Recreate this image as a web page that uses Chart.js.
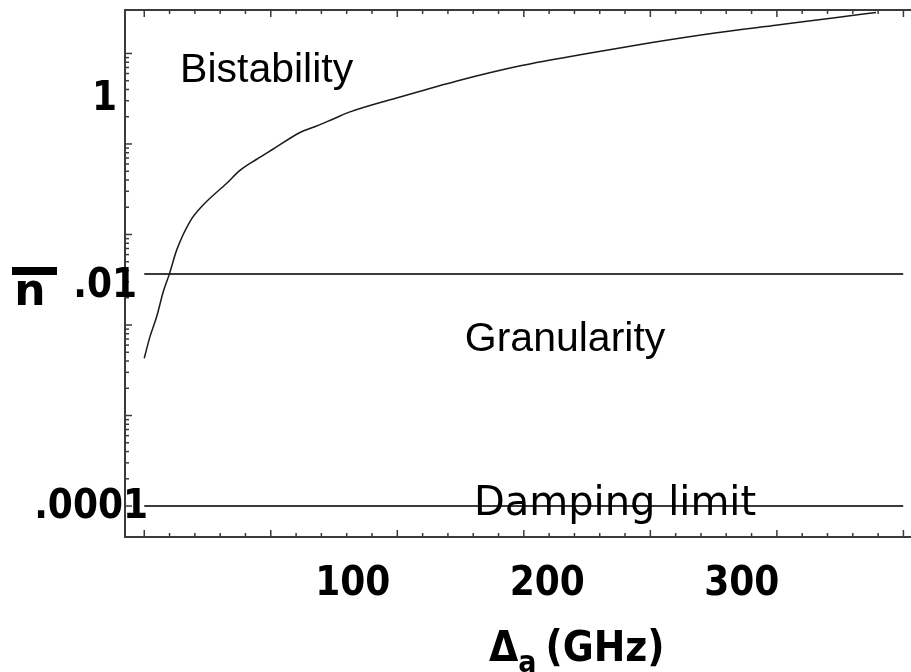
<!DOCTYPE html>
<html lang="en">
<head>
<meta charset="utf-8" />
<title>Mean photon number vs detuning</title>
<script src="https://cdn.jsdelivr.net/npm/chart.js@4.4.1/dist/chart.umd.min.js"></script>
<style>
  html, body { margin: 0; padding: 0; background: #fff; }
  canvas { display: block; }
</style>
</head>
<body>
<canvas id="chart" width="911" height="672"></canvas>
<script>
// curve: detuning (GHz) and mean photon number (log axis)
const detuning = [-7.2, -4.3, -0.8, 2.6, 5.7, 9.5, 16.3, 23.1, 35.2, 42.0, 50.6, 59.1,
  72.9, 81.4, 90.0, 98.6, 124.3, 153.6, 186.8, 219.9, 253.1, 286.2, 318.4, 346.9, 369.0];
const nBar = [0.0043, 0.0074, 0.0124, 0.0234, 0.0365, 0.0676, 0.139, 0.212, 0.368, 0.511, 0.678, 0.88,
  1.34, 1.58, 1.89, 2.26, 3.3, 4.97, 7.36, 9.93, 13.1, 16.8, 20.6, 24.7, 28.3];

// horizontal limit lines
const limitValues = [0.0367, 0.0001];
const limitFrom = -7.2;
const limitTo = 383;

// region names
const regionNames = ['Bistability', 'Granularity', 'Damping limit'];
const regionAt = [[11.2, 4.84], [157.6, 0.00519], [162.3, 0.00008]];

// tick labels
const xTickValues = [100, 200, 300];
const xTickLabels = ['100', '200', '300'];
const yTickLabels = ['.0001', '.01', '1'];
const yTickAt = [0.0000737, 0.0205, 2.375];

// the frame ticks of the original plot: its own units, a tick every 20, a long one every 100
const frameOrigin = -7.2;   // GHz at frame 0
const frameStep = 0.6505;   // GHz per frame unit

const BOLD = "bold 40px 'DejaVu Sans Condensed', 'DejaVu Sans', sans-serif";
const INK = '#3a3a3a';

const framePlugin = {
  id: 'framePlugin',
  afterDraw(chart) {
    const { ctx, chartArea: a } = chart;
    const x = chart.scales.x, y = chart.scales.y;
    const seg = (x1, y1, x2, y2) => {
      ctx.beginPath(); ctx.moveTo(x1, y1); ctx.lineTo(x2, y2); ctx.stroke();
    };
    ctx.save();
    ctx.strokeStyle = INK;
    ctx.lineWidth = 2;
    seg(a.left, a.top, a.right, a.top);

    // inward ticks
    ctx.lineWidth = 1.5;
    for (let u = 0; u <= 600; u += 20) {
      const px = x.getPixelForValue(frameOrigin + u * frameStep);
      const len = u % 100 === 0 ? 7 : 4;
      seg(px, a.bottom, px, a.bottom - len);
      seg(px, a.top, px, a.top + len);
    }
    for (let k = -4; k <= 1; k++) {
      for (let m = 1; m <= 9; m++) {
        if (k === 1 && m > 1) break;
        const py = y.getPixelForValue(m * Math.pow(10, k));
        seg(a.left, py, a.left + (m === 1 ? 7 : 4), py);
      }
    }

    // y tick labels
    ctx.fillStyle = '#000';
    ctx.font = BOLD;
    ctx.textAlign = 'right';
    ctx.textBaseline = 'alphabetic';
    const yLabelRight = [23, 12, -8];
    yTickLabels.forEach((t, i) => {
      ctx.fillText(t, a.left + yLabelRight[i], y.getPixelForValue(yTickAt[i]));
    });

    // y title: n with a bar over it
    ctx.textAlign = 'center';
    ctx.font = "bold 44px 'DejaVu Sans', sans-serif";
    ctx.fillText('n', 30, 305);
    ctx.fillRect(12, 267, 45, 8);

    // x title: Δa (GHz)
    ctx.textAlign = 'left';
    const big = "bold 42px 'DejaVu Sans Condensed', 'DejaVu Sans', sans-serif";
    const sub = "bold 30px 'DejaVu Sans Condensed', 'DejaVu Sans', sans-serif";
    let tx = 489;
    ctx.font = big;
    ctx.fillText('\u0394', tx, 661);
    tx += ctx.measureText('\u0394').width;
    ctx.font = sub;
    ctx.fillText('a', tx, 672);
    tx += ctx.measureText('a').width + 9;
    ctx.font = big;
    ctx.fillText('(GHz)', tx, 661);

    // region names
    regionNames.forEach((t, i) => {
      ctx.font = i === 2 ? "40px 'DejaVu Sans', sans-serif" : "41px 'Liberation Sans', Arial, sans-serif";
      ctx.fillText(t, x.getPixelForValue(regionAt[i][0]), y.getPixelForValue(regionAt[i][1]));
    });
    ctx.restore();
  }
};

const curve = detuning.map((d, i) => ({ x: d, y: nBar[i] }));
const limits = limitValues.map((v) => ({
  data: [{ x: limitFrom, y: v }, { x: limitTo, y: v }],
  borderColor: INK,
  borderWidth: 2,
  pointRadius: 0,
}));

new Chart(document.getElementById('chart'), {
  type: 'line',
  data: {
    datasets: [
      {
        data: curve,
        borderColor: '#1a1a1a',
        borderWidth: 1.5,
        pointRadius: 0,
        cubicInterpolationMode: 'monotone',
      },
      ...limits,
    ],
  },
  options: {
    responsive: false,
    animation: false,
    devicePixelRatio: 1,
    layout: { padding: { top: 10, right: 0, left: 0, bottom: 0 } },
    plugins: { legend: { display: false }, tooltip: { enabled: false } },
    scales: {
      x: {
        type: 'linear',
        min: -17.1,
        max: 387,
        grid: { display: false, drawTicks: false },
        border: { display: true, color: INK, width: 2 },
        afterBuildTicks: (scale) => {
          scale.ticks = xTickValues.map((v) => ({ value: v }));
        },
        afterFit: (scale) => { scale.height = 135; },
        ticks: {
          autoSkip: false,
          maxRotation: 0,
          padding: 24,
          color: '#000',
          font: { family: "'DejaVu Sans Condensed', 'DejaVu Sans'", size: 40, weight: 'bold' },
          callback: (v) => xTickLabels[xTickValues.indexOf(v)],
        },
      },
      y: {
        type: 'logarithmic',
        min: 0.0000455,
        max: 30.2,
        grid: { display: false, drawTicks: false },
        border: { display: true, color: INK, width: 2 },
        ticks: { display: false },
        afterFit: (scale) => { scale.width = 125; },
      },
    },
  },
  plugins: [framePlugin],
});
</script>
</body>
</html>
